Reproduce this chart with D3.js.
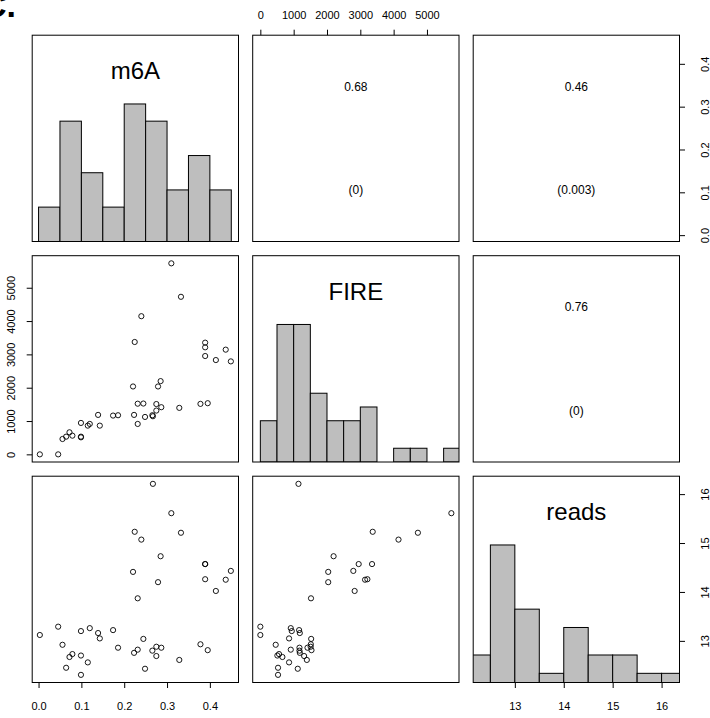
<!DOCTYPE html>
<html>
<head>
<meta charset="utf-8">
<script src="https://cdn.jsdelivr.net/npm/d3@7"></script>
<style>
    html, body { margin: 0; padding: 0; background: #fff; }
    #chart { width: 710px; height: 718px; }
</style>
</head>
<body>
<div id="chart"></div>
<script>
// variable names shown on the diagonal
const varNames = ['m6A', 'FIRE', 'reads'];

// one value per sample, same order in all three arrays
const m6A = [0.267, 0.310, 0.2245, 0.3325, 0.240, 0.285, 0.389, 0.389, 0.389, 0.437, 0.449,
    0.2206, 0.279, 0.414, 0.2315, 0.0458, 0.1196, 0.174, 0.099, 0.139, 0.003, 0.143, 0.2447,
    0.378, 0.0559, 0.1856, 0.275, 0.2866, 0.2315, 0.2657, 0.395, 0.223, 0.079, 0.099, 0.275,
    0.0722, 0.3286, 0.115, 0.0644, 0.2486, 0.099];
const fire = [1144, 5732, 3372, 4728, 4146, 2198, 2951, 3352, 3212, 3142, 2790,
    2037, 2037, 2830, 1520, 0, 913, 1164, 943, 1184, 0, 862, 1525,
    1515, 461, 1174, 1510, 1415, 913, 1174, 1535, 1184, 561, 511, 1314,
    662, 1395, 862, 531, 1123, 531];
const reads = [16.21, 15.61, 15.23, 15.21, 15.07, 14.73, 14.57, 14.57, 14.26, 14.25, 14.43,
    14.41, 14.20, 14.02, 13.87, 13.29, 13.26, 13.22, 13.20, 13.16, 13.12, 13.05, 13.04,
    12.93, 12.92, 12.86, 12.88, 12.86, 12.82, 12.80, 12.81, 12.755, 12.73, 12.70, 12.69,
    12.67, 12.61, 12.56, 12.45, 12.43, 12.305];

// histogram breaks and counts
const m6ABreaks = [0, 0.05, 0.1, 0.15, 0.2, 0.25, 0.3, 0.35, 0.4, 0.45];
const m6ACounts = [2, 7, 4, 2, 8, 7, 3, 5, 3];
const fireBreaks = [0, 500, 1000, 1500, 2000, 2500, 3000, 3500, 4000, 4500, 5000, 5500, 6000];
const fireCounts = [3, 10, 10, 5, 3, 3, 4, 0, 1, 1, 0, 1];
const readsBreaks = [12, 12.5, 13, 13.5, 14, 14.5, 15, 15.5, 16, 16.5];
const readsCounts = [3, 15, 8, 1, 6, 3, 3, 1, 1];

// axis ticks
const m6ATicks = [0, 0.1, 0.2, 0.3, 0.4];
const fireTicks = [0, 1000, 2000, 3000, 4000, 5000];
const readsTicks = [13, 14, 15, 16];

// upper panels: correlation and p-value, keyed "row-col"
const corLabels = { '0-1': ['0.68', '(0)'], '0-2': ['0.46', '(0.003)'], '1-2': ['0.76', '(0)'] };

class PairsPlot {
    constructor(containerId) {
        this.containerId = containerId;
        this.width = 710;
        this.height = 718;
        this.size = 206.3;
        this.step = 220.5;
        this.x0 = 32.2;
        this.y0 = 35.2;
        this.font = '"Liberation Sans", Arial, Helvetica, sans-serif';
        this.vars = [
            { name: varNames[0], values: m6A, breaks: m6ABreaks, counts: m6ACounts, ticks: m6ATicks, fmt: d3.format('.1f') },
            { name: varNames[1], values: fire, breaks: fireBreaks, counts: fireCounts, ticks: fireTicks, fmt: d3.format('d') },
            { name: varNames[2], values: reads, breaks: readsBreaks, counts: readsCounts, ticks: readsTicks, fmt: d3.format('d') }
        ];
    }

    init() {
        this.setupSVG();
        this.setupScales();
        this.drawPanels();
        this.drawAxes();
    }

    setupSVG() {
        const container = d3.select(`#${this.containerId}`);
        container.selectAll('*').remove();
        this.svg = container.append('svg')
            .attr('width', this.width)
            .attr('height', this.height)
            .style('font-family', this.font);

        // panel letter, cut off at the top edge like in the source figure
        this.svg.append('text')
            .attr('x', 16)
            .attr('y', 17)
            .attr('text-anchor', 'end')
            .attr('font-size', '34px')
            .attr('font-weight', 'bold')
            .text('C.');
    }

    setupScales() {
        this.vars.forEach((v, i) => {
            const [lo, hi] = d3.extent(v.values);
            const pad = (hi - lo) * 0.04;
            const left = this.x0 + i * this.step;
            const top = this.y0 + i * this.step;
            v.left = left;
            v.top = top;
            v.x = d3.scaleLinear().domain([lo - pad, hi + pad]).range([left, left + this.size]);
            v.y = d3.scaleLinear().domain([lo - pad, hi + pad]).range([top + this.size, top]);
        });
    }

    drawPanels() {
        const n = this.vars.length;
        for (let r = 0; r < n; r++) {
            for (let c = 0; c < n; c++) {
                const colVar = this.vars[c];
                const rowVar = this.vars[r];
                const g = this.svg.append('g').attr('class', `panel p${r}${c}`);
                if (r === c) this.drawHistogram(g, colVar, r);
                else if (r > c) this.drawScatter(g, colVar, rowVar);
                else this.drawCor(g, colVar, rowVar, corLabels[`${r}-${c}`]);

                g.append('rect')
                    .attr('x', colVar.left)
                    .attr('y', rowVar.top)
                    .attr('width', this.size)
                    .attr('height', this.size)
                    .attr('fill', 'none')
                    .attr('stroke', '#000')
                    .attr('stroke-width', 1);
            }
        }
    }

    drawHistogram(g, v, i) {
        const clipId = `clip-${i}`;
        this.svg.append('clipPath')
            .attr('id', clipId)
            .append('rect')
            .attr('x', v.left)
            .attr('y', v.top)
            .attr('width', this.size)
            .attr('height', this.size);

        const maxCount = d3.max(v.counts);
        const yHist = d3.scaleLinear().domain([0, 1.5]).range([v.top + this.size, v.top]);
        const bins = v.counts.map((cnt, k) => ({ x0: v.breaks[k], x1: v.breaks[k + 1], cnt }));

        g.append('g')
            .attr('clip-path', `url(#${clipId})`)
            .selectAll('rect')
            .data(bins)
            .enter()
            .append('rect')
            .attr('x', d => v.x(d.x0))
            .attr('y', d => yHist(d.cnt / maxCount))
            .attr('width', d => v.x(d.x1) - v.x(d.x0))
            .attr('height', d => yHist(0) - yHist(d.cnt / maxCount))
            .attr('fill', '#bebebe')
            .attr('stroke', '#000')
            .attr('stroke-width', 1);

        g.append('text')
            .attr('x', v.left + this.size / 2)
            .attr('y', v.top + 44)
            .attr('text-anchor', 'middle')
            .attr('font-size', '24px')
            .text(v.name);
    }

    drawScatter(g, xv, yv) {
        g.selectAll('circle')
            .data(xv.values.map((d, k) => [d, yv.values[k]]))
            .enter()
            .append('circle')
            .attr('cx', d => xv.x(d[0]))
            .attr('cy', d => yv.y(d[1]))
            .attr('r', 2.6)
            .attr('fill', 'none')
            .attr('stroke', '#000')
            .attr('stroke-width', 0.9);
    }

    drawCor(g, xv, yv, labels) {
        const cx = xv.left + this.size / 2;
        [0.25, 0.75].forEach((f, k) => {
            g.append('text')
                .attr('x', cx)
                .attr('y', yv.top + this.size * f)
                .attr('dy', '0.35em')
                .attr('text-anchor', 'middle')
                .attr('font-size', '12px')
                .text(labels[k]);
        });
    }

    styleAxis(sel) {
        sel.select('.domain').remove();
        sel.selectAll('line').attr('stroke', '#000');
        sel.selectAll('text')
            .attr('fill', '#000')
            .style('font-family', this.font)
            .style('font-size', '11px');
    }

    drawAxes() {
        const [v0, v1, v2] = this.vars;
        const bottom = v2.top + this.size;
        const right = v2.left + this.size;
        const tick = 5.5;

        // top: FIRE
        this.svg.append('g')
            .attr('transform', `translate(0,${v0.top})`)
            .call(d3.axisTop(v1.x).tickValues(v1.ticks).tickFormat(v1.fmt).tickSize(tick).tickPadding(11.2))
            .call(s => this.styleAxis(s));

        // bottom: m6A and reads
        [v0, v2].forEach(v => {
            this.svg.append('g')
                .attr('transform', `translate(0,${bottom})`)
                .call(d3.axisBottom(v.x).tickValues(v.ticks).tickFormat(v.fmt).tickSize(tick).tickPadding(14.5))
                .call(s => this.styleAxis(s));
        });

        // left: FIRE, labels turned along the axis
        this.svg.append('g')
            .attr('transform', `translate(${v0.left},0)`)
            .call(d3.axisLeft(v1.y).tickValues(v1.ticks).tickFormat(v1.fmt).tickSize(tick))
            .call(s => this.styleAxis(s))
            .selectAll('text')
            .attr('x', null)
            .attr('dy', null)
            .attr('text-anchor', 'middle')
            .attr('transform', 'translate(-17.5,0) rotate(-90)');

        // right: m6A and reads
        [v0, v2].forEach(v => {
            this.svg.append('g')
                .attr('transform', `translate(${right},0)`)
                .call(d3.axisRight(v.y).tickValues(v.ticks).tickFormat(v.fmt).tickSize(tick))
                .call(s => this.styleAxis(s))
                .selectAll('text')
                .attr('x', null)
                .attr('dy', null)
                .attr('text-anchor', 'middle')
                .attr('transform', 'translate(29.6,0) rotate(-90)');
        });
    }
}

const chart = new PairsPlot('chart');
chart.init();
</script>
</body>
</html>
